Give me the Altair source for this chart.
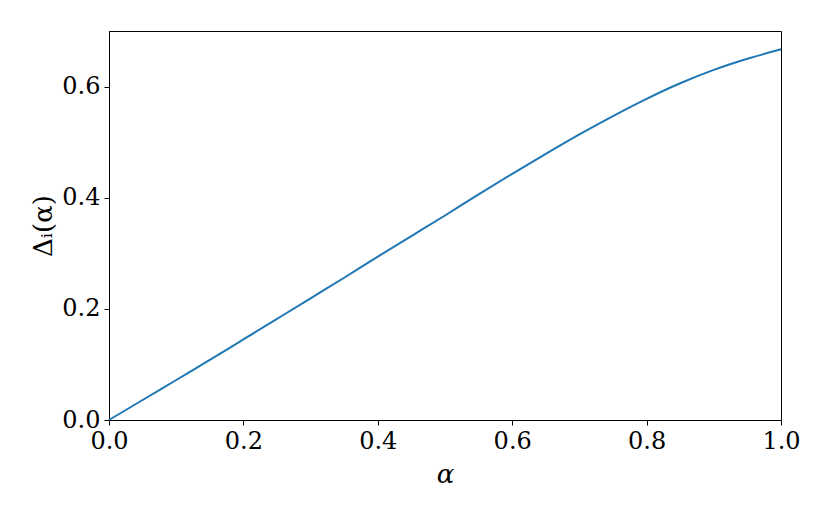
import altair as alt
import pandas as pd

alpha = [0.0, 0.05, 0.1, 0.15, 0.2, 0.25, 0.3, 0.35, 0.4, 0.45, 0.5,
         0.55, 0.6, 0.65, 0.7, 0.75, 0.8, 0.85, 0.9, 0.95, 1.0]
delta = [0.0, 0.036, 0.072, 0.108, 0.145, 0.182, 0.219, 0.256, 0.294, 0.331, 0.368,
         0.406, 0.443, 0.479, 0.514, 0.547, 0.578, 0.606, 0.630, 0.650, 0.667]
x_ticks = [0.0, 0.2, 0.4, 0.6, 0.8, 1.0]
y_ticks = [0.0, 0.2, 0.4, 0.6]

df = pd.DataFrame({"alpha": alpha, "delta": delta})

FONT = "DejaVu Serif"

chart = alt.Chart(df).mark_line(color="#1f77b4", strokeWidth=2, interpolate="monotone").encode(
    x=alt.X("alpha:Q", scale=alt.Scale(domain=[0, 1], nice=False, zero=False),
            axis=alt.Axis(values=x_ticks, format=".1f", title="α", grid=False,
                          labelFlush=False, tickSize=5, labelPadding=4,
                          titleFontSize=26, titleFontWeight="normal",
                          titleFontStyle="italic", titlePadding=8)),
    y=alt.Y("delta:Q", scale=alt.Scale(domain=[0, 0.7], nice=False),
            axis=alt.Axis(values=y_ticks, format=".1f", title="Δᵢ(α)", grid=False,
                          labelFlush=False, tickSize=5, labelPadding=4,
                          titleFontSize=26, titleFontWeight="normal",
                          titlePadding=5)),
).properties(
    width=672, height=389,
    autosize=alt.AutoSizeParams(type="none"),
    padding={"left": 101, "top": 23, "right": 41, "bottom": 91},
).configure(font=FONT).configure_axis(
    labelFont=FONT, titleFont=FONT, labelFontSize=24, labelColor="black",
    domainColor="black", tickColor="black", titleColor="black",
    domainWidth=1, tickWidth=1,
).configure_view(stroke="black", strokeWidth=1)

chart.save("out.html", embed_options={"renderer": "svg", "actions": False})
